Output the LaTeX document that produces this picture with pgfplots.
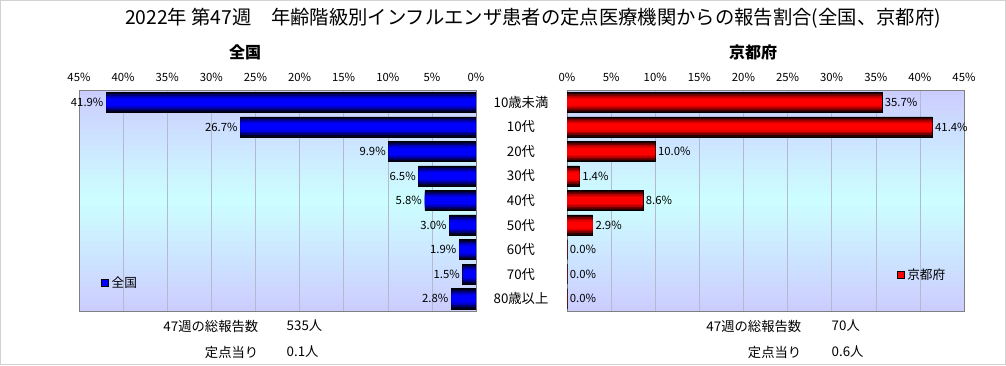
\documentclass[border=0pt]{standalone}
\usepackage{fontspec}
\setmainfont{Noto Sans CJK JP}
\usepackage{pgfplots}
\usepackage{pgfplotstable}
\pgfplotsset{compat=1.18}
\definecolor{bgA}{RGB}{204,204,255}
\definecolor{bgB}{RGB}{204,255,255}
\definecolor{gridc}{RGB}{180,185,205}
\pgfplotstableread{
idx zenkoku kyoto
0 41.9 35.7
1 26.7 41.4
2 9.9 10.0
3 6.5 1.4
4 5.8 8.6
5 3.0 2.9
6 1.9 0.0
7 1.5 0.0
8 2.8 0.0
}\data
\pgfplotsset{
  halfchart/.style={
    scale only axis, width=297.75pt, height=165.75pt,
    xbar, bar shift=0pt,
    xmin=0, xmax=45, ymin=-0.5, ymax=8.5, y dir=reverse,
    xtick={0,5,...,45},
    xticklabel={\pgfmathprintnumber{\tick}\%},
    xticklabel pos=right,
    /pgf/number format/assume math mode=true,
    xticklabel style={font=\fontsize{8.5}{9}\selectfont, yshift=3pt},
    xmajorgrids, grid style={gridc},
    axis line style={gray},
    major tick length=0pt,
    legend style={draw=none, fill=none, font=\fontsize{9.5}{10}\selectfont, inner sep=0pt},
  },
  valnodes/.style={point meta=x,
    nodes near coords={\pgfmathprintnumber[fixed,fixed zerofill,precision=1,assume math mode=true]{\pgfplotspointmeta}\%}},
}
\begin{document}
\begin{tikzpicture}[x=0.75pt,y=0.75pt]
\fill[white] (0,0) rectangle (1006,365);
\draw[gray!35] (0.5,0.5) rectangle (1005.5,364.5);
% plot-area background gradients (lavender - cyan - lavender)
\foreach \i in {0,...,43} {
  \pgfmathsetmacro{\ya}{54+\i*221/44}
  \pgfmathsetmacro{\yb}{54+(\i+1)*221/44+0.4}
  \pgfmathsetmacro{\pct}{100*(1-abs(2*(\i+0.5)/44-1))}
  \fill[bgB!\pct!bgA] (79,\ya) rectangle (476,\yb);
  \fill[bgB!\pct!bgA] (567,\ya) rectangle (964,\yb);
}
\node[font=\fontsize{14.5}{16}\selectfont] at (533,347) {2022年 第47週　年齢階級別インフルエンザ患者の定点医療機関からの報告割合(全国、京都府)};
\node[font=\bfseries\fontsize{12}{14}\selectfont] at (245,313) {全国};
\node[font=\bfseries\fontsize{12}{14}\selectfont] at (753,313) {京都府};

\begin{axis}[halfchart, at={(59.25pt,40.5pt)}, anchor=south west,
  x dir=reverse, ytick=\empty,
  every node near coord/.append style={anchor=east, font=\fontsize{8.5}{9}\selectfont, inner sep=2pt},
  legend style={at={(axis description cs:0.055,0.127)}, anchor=west},
  legend image code/.code={\draw[fill=blue,draw=black] (0pt,-2.5pt) rectangle (5.5pt,2.5pt);},
]
\addplot[draw=black, fill=blue!15!black, bar width=0.82, valnodes] table[x=zenkoku,y=idx] {\data};
\addlegendentry{全国}
\addplot[draw=none, fill=blue!45!black, bar width=0.66, forget plot] table[x=zenkoku,y=idx] {\data};
\addplot[draw=none, fill=blue!70!black, bar width=0.52, forget plot] table[x=zenkoku,y=idx] {\data};
\addplot[draw=none, fill=blue!88!black, bar width=0.40, forget plot] table[x=zenkoku,y=idx] {\data};
\addplot[draw=none, fill=blue, bar width=0.28, forget plot] table[x=zenkoku,y=idx] {\data};
\end{axis}

\begin{axis}[halfchart, at={(425.25pt,40.5pt)}, anchor=south west,
  ytick={0,...,8},
  yticklabels={10歳未満,10代,20代,30代,40代,50代,60代,70代,80歳以上},
  yticklabel style={anchor=center, xshift=-34.5pt, font=\fontsize{10}{11}\selectfont},
  every node near coord/.append style={anchor=west, font=\fontsize{8.5}{9}\selectfont, inner sep=2pt},
  legend style={at={(axis description cs:0.83,0.163)}, anchor=west},
  legend image code/.code={\draw[fill=red,draw=black] (0pt,-2.5pt) rectangle (5.5pt,2.5pt);},
]
\addplot[draw=black, fill=red!15!black, bar width=0.82, valnodes] table[x=kyoto,y=idx] {\data};
\addlegendentry{京都府}
\addplot[draw=none, fill=red!45!black, bar width=0.66, forget plot] table[x=kyoto,y=idx] {\data};
\addplot[draw=none, fill=red!70!black, bar width=0.52, forget plot] table[x=kyoto,y=idx] {\data};
\addplot[draw=none, fill=red!88!black, bar width=0.40, forget plot] table[x=kyoto,y=idx] {\data};
\addplot[draw=none, fill=red, bar width=0.28, forget plot] table[x=kyoto,y=idx] {\data};
\end{axis}

\begin{scope}[font=\fontsize{10}{11}\selectfont]
\node[anchor=east] at (263,39) {47週の総報告数};
\node[anchor=west] at (282,39) {535人};
\node[anchor=east] at (263,13) {定点当り};
\node[anchor=west] at (282,13) {0.1人};
\node[anchor=east] at (806,39) {47週の総報告数};
\node[anchor=west] at (827,39) {70人};
\node[anchor=east] at (806,13) {定点当り};
\node[anchor=west] at (827,13) {0.6人};
\end{scope}
\end{tikzpicture}
\end{document}
